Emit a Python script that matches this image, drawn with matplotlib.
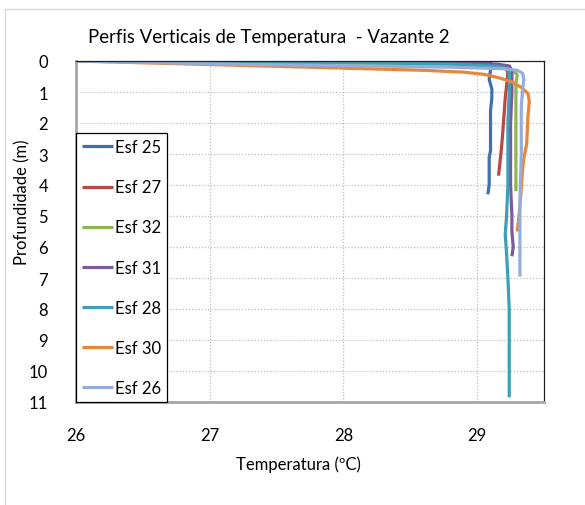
import matplotlib
matplotlib.use("Agg")
import matplotlib.pyplot as plt
from matplotlib.patches import Rectangle

plt.rcParams['font.family'] = ['Lato', 'DejaVu Sans']

series_names = ["Esf 25", "Esf 27", "Esf 32", "Esf 31", "Esf 28", "Esf 30", "Esf 26"]
colors = ["#4170AD", "#BA4744", "#8DB652", "#7A5C9D", "#3CA0B8", "#E8863C", "#94AEDB"]

esf25_t = [26.0, 29.08, 29.10, 29.10, 29.09, 29.11, 29.11, 29.10, 29.10, 29.10, 29.10, 29.09, 29.09, 29.09, 29.08]
esf25_d = [0.0, 0.01, 0.05, 0.3, 0.6, 0.9, 1.2, 1.6, 2.0, 2.5, 2.9, 3.1, 3.5, 4.0, 4.3]

esf27_t = [26.0, 28.8, 29.15, 29.22, 29.23, 29.22, 29.21, 29.20, 29.19, 29.18, 29.17, 29.16]
esf27_d = [0.0, 0.08, 0.15, 0.25, 0.4, 0.8, 1.2, 1.8, 2.4, 2.9, 3.3, 3.7]

esf32_t = [26.0, 28.8, 29.2, 29.27, 29.30, 29.29, 29.29, 29.29, 29.29, 29.29]
esf32_d = [0.0, 0.1, 0.2, 0.3, 0.45, 0.7, 1.5, 2.5, 3.5, 4.2]

esf31_t = [26.0, 28.8, 29.15, 29.24, 29.26, 29.26, 29.25, 29.25, 29.25, 29.26, 29.26, 29.27, 29.26]
esf31_d = [0.0, 0.04, 0.1, 0.16, 0.3, 1.0, 2.0, 3.0, 4.0, 5.0, 5.5, 6.0, 6.3]

esf28_t = [26.0, 28.0, 28.8, 29.15, 29.23, 29.24, 29.24, 29.23, 29.23, 29.23, 29.22, 29.21, 29.22, 29.23, 29.24, 29.24, 29.24, 29.24]
esf28_d = [0.0, 0.05, 0.1, 0.17, 0.25, 0.4, 1.0, 2.0, 3.0, 4.0, 5.0, 5.6, 6.2, 7.0, 8.0, 9.0, 10.0, 10.85]

esf30_t = [26.0, 27.3, 28.0, 28.6, 28.9, 29.05, 29.17, 29.26, 29.33, 29.38, 29.39, 29.38, 29.37, 29.35, 29.34, 29.33, 29.32, 29.30]
esf30_d = [0.0, 0.15, 0.23, 0.3, 0.36, 0.43, 0.55, 0.68, 0.85, 1.05, 1.3, 1.8, 2.7, 3.1, 3.5, 4.1, 4.7, 5.5]

esf26_t = [26.0, 27.4, 28.0, 28.8, 29.2, 29.3, 29.34, 29.35, 29.34, 29.33, 29.33, 29.32, 29.32, 29.32]
esf26_d = [0.0, 0.12, 0.15, 0.2, 0.25, 0.3, 0.4, 0.6, 0.9, 1.5, 3.0, 4.5, 6.0, 6.95]

temps = [esf25_t, esf27_t, esf32_t, esf31_t, esf28_t, esf30_t, esf26_t]
depths = [esf25_d, esf27_d, esf32_d, esf31_d, esf28_d, esf30_d, esf26_d]

x_ticks = [26, 27, 28, 29]
y_ticks = list(range(0, 12))

W, H = 585, 506
fig = plt.figure(figsize=(W / 100, H / 100), dpi=100)
fig.patches.append(Rectangle((5 / W, -0.1), 2, 1 - 10 / H + 0.1, transform=fig.transFigure,
                             fill=False, edgecolor="#D9D9D9", linewidth=1.0))
ax = fig.add_axes([76 / W, 1 - 403 / H, (544 - 76) / W, (403 - 62) / H])

for t, d, name, c in zip(temps, depths, series_names, colors):
    ax.plot(t, d, color=c, lw=2.3, label=name, solid_capstyle='butt', solid_joinstyle='round')

ax.set_xlim(26, 29.5)
ax.set_ylim(11, 0)
ax.set_xticks(x_ticks)
ax.set_yticks(y_ticks)
ax.tick_params(length=0, labelsize=12)
ax.tick_params(axis='y', pad=20)
ax.tick_params(axis='x', pad=18)
for lab in ax.get_yticklabels():
    lab.set_horizontalalignment('right')
ax.grid(True, color="#BFBFBF", linestyle=(0, (1, 1.5)), linewidth=0.9)
ax.set_axisbelow(True)
for s in ['left', 'bottom']:
    ax.spines[s].set_color("#A6A6A6")
    ax.spines[s].set_linewidth(2.0)
for s in ['top', 'right']:
    ax.spines[s].set_color("#222222")
    ax.spines[s].set_linewidth(0.9)

leg = ax.legend(loc='lower left', bbox_to_anchor=(0, 0), borderaxespad=0, fontsize=12,
                frameon=True, fancybox=False, edgecolor='black', framealpha=1,
                handlelength=1.85, handletextpad=0.15, labelspacing=1.45,
                borderpad=0.35)
leg.get_frame().set_linewidth(0.9)

fig.text(269 / W, 1 - 37 / H, "Perfis Verticais de Temperatura  - Vazante 2", ha='center', va='center',
         fontsize=13.4)
fig.text(298 / W, 1 - 465 / H, "Temperatura (ºC)", ha='center', va='center', fontsize=12)
fig.text(22 / W, 1 - 202 / H, "Profundidade (m)", ha='center', va='center', rotation=90, fontsize=12)

fig.savefig("out.png", dpi=100)
